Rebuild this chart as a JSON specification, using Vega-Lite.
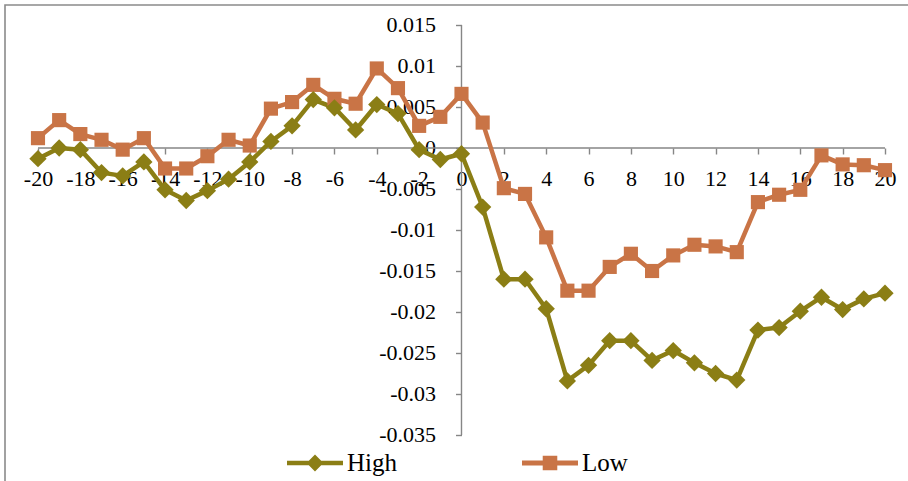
{
  "$schema": "https://vega.github.io/schema/vega-lite/v6.json",
  "width": 905,
  "height": 479,
  "padding": {"left": 5, "top": 5, "right": 0, "bottom": 0},
  "autosize": {"type": "none"},
  "background": "white",
  "config": {
    "font": "Liberation Serif",
    "view": {"stroke": "#8a8a8a", "strokeWidth": 1.6}
  },
  "datasets": {
    "series": [
      {"t": -20, "High": -0.0013, "Low": 0.0012},
      {"t": -19, "High": 0.0000, "Low": 0.0034},
      {"t": -18, "High": -0.0002, "Low": 0.0017},
      {"t": -17, "High": -0.0030, "Low": 0.0010},
      {"t": -16, "High": -0.0034, "Low": -0.0002},
      {"t": -15, "High": -0.0017, "Low": 0.0012},
      {"t": -14, "High": -0.0051, "Low": -0.0025},
      {"t": -13, "High": -0.0064, "Low": -0.0025},
      {"t": -12, "High": -0.0052, "Low": -0.0010},
      {"t": -11, "High": -0.0038, "Low": 0.0010},
      {"t": -10, "High": -0.0017, "Low": 0.0003},
      {"t": -9, "High": 0.0008, "Low": 0.0048},
      {"t": -8, "High": 0.0027, "Low": 0.0056},
      {"t": -7, "High": 0.0059, "Low": 0.0077},
      {"t": -6, "High": 0.0049, "Low": 0.0060},
      {"t": -5, "High": 0.0022, "Low": 0.0054},
      {"t": -4, "High": 0.0053, "Low": 0.0097},
      {"t": -3, "High": 0.0042, "Low": 0.0073},
      {"t": -2, "High": -0.0002, "Low": 0.0027},
      {"t": -1, "High": -0.0014, "Low": 0.0038},
      {"t": 0, "High": -0.0007, "Low": 0.0066},
      {"t": 1, "High": -0.0072, "Low": 0.0031},
      {"t": 2, "High": -0.0160, "Low": -0.0049},
      {"t": 3, "High": -0.0160, "Low": -0.0056},
      {"t": 4, "High": -0.0196, "Low": -0.0109},
      {"t": 5, "High": -0.0284, "Low": -0.0174},
      {"t": 6, "High": -0.0265, "Low": -0.0174},
      {"t": 7, "High": -0.0235, "Low": -0.0145},
      {"t": 8, "High": -0.0235, "Low": -0.0129},
      {"t": 9, "High": -0.0259, "Low": -0.0150},
      {"t": 10, "High": -0.0247, "Low": -0.0131},
      {"t": 11, "High": -0.0262, "Low": -0.0118},
      {"t": 12, "High": -0.0275, "Low": -0.0120},
      {"t": 13, "High": -0.0283, "Low": -0.0127},
      {"t": 14, "High": -0.0222, "Low": -0.0066},
      {"t": 15, "High": -0.0219, "Low": -0.0057},
      {"t": 16, "High": -0.0199, "Low": -0.0051},
      {"t": 17, "High": -0.0182, "Low": -0.0009},
      {"t": 18, "High": -0.0197, "Low": -0.0020},
      {"t": 19, "High": -0.0184, "Low": -0.0021},
      {"t": 20, "High": -0.0177, "Low": -0.0027}
    ],
    "axisLines": [
      {"x1": -20, "x2": 20, "y1": 0, "y2": 0},
      {"x1": 0, "x2": 0, "y1": -0.035, "y2": 0.015}
    ]
  },
  "layer": [
    {
      "data": {"name": "series"},
      "transform": [{"fold": ["High", "Low"], "as": ["series", "value"]}, {"filter": "false"}],
      "mark": {"type": "point", "filled": true, "opacity": 1},
      "encoding": {
        "x": {"field": "t", "type": "quantitative"},
        "y": {"field": "value", "type": "quantitative"},
        "color": {"field": "series", "type": "nominal",
          "scale": {"domain": ["High", "Low"], "range": ["#8b7e15", "#c97446"]},
          "legend": {
            "title": null, "orient": "none", "legendX": 282, "legendY": 430, "direction": "horizontal",
            "symbolSize": 3136, "symbolStrokeWidth": 0, "symbolOpacity": 1,
            "labelFontSize": 25, "labelColor": "#000000", "labelOffset": 4, "columnPadding": 125, "padding": 0
          }
        },
        "shape": {"field": "series", "type": "nominal",
          "scale": {"domain": ["High", "Low"], "range": [
            "M-1,-0.08 L1,-0.08 L1,0.08 L-1,0.08 Z M0,-0.3 L0.3,0 L0,0.3 L-0.3,0 Z",
            "M-1,-0.09 L1,-0.09 L1,0.09 L-1,0.09 Z M-0.26,-0.26 L0.26,-0.26 L0.26,0.26 L-0.26,0.26 Z"
          ]},
          "legend": {
            "title": null, "orient": "none", "legendX": 282, "legendY": 430, "direction": "horizontal",
            "symbolSize": 3136, "symbolStrokeWidth": 0, "symbolOpacity": 1,
            "labelFontSize": 25, "labelColor": "#000000", "labelOffset": 4, "columnPadding": 125, "padding": 0
          }
        }
      }
    },
    {
      "data": {"name": "axisLines"},
      "mark": {"type": "rule", "color": "#868686", "strokeWidth": 1.4},
      "encoding": {
        "x": {"field": "x1", "type": "quantitative", "scale": {"domain": [-21.558, 21.181], "nice": false, "zero": false},
          "axis": {
            "orient": "bottom", "offset": -336, "domain": false, "grid": false, "title": null,
            "values": [-20, -18, -16, -14, -12, -10, -8, -6, -4, -2, 0, 2, 4, 6, 8, 10, 12, 14, 16, 18, 20],
            "labelExpr": "'' + datum.value",
            "tickSize": 6, "tickColor": "#868686", "tickWidth": 1.4,
            "labelFontSize": 22, "labelColor": "#000000", "labelPadding": 14,
            "labelOverlap": false, "labelFlush": false, "labelBound": false
          }
        },
        "x2": {"field": "x2"},
        "y": {"field": "y1", "type": "quantitative", "scale": {"domain": [-0.040976, 0.017439], "nice": false, "zero": false},
          "axis": {
            "orient": "left", "offset": -456.5, "domain": false, "grid": false, "title": null,
            "values": [-0.035, -0.03, -0.025, -0.02, -0.015, -0.01, -0.005, 0, 0.005, 0.01, 0.015],
            "labelExpr": "'' + datum.value",
            "tickSize": 6, "tickColor": "#868686", "tickWidth": 1.4,
            "labelFontSize": 22, "labelColor": "#000000", "labelPadding": 20,
            "labelOverlap": false, "labelFlush": false, "labelBound": false
          }
        },
        "y2": {"field": "y2"}
      }
    },
    {
      "data": {"name": "series"},
      "transform": [{"fold": ["High", "Low"], "as": ["series", "value"]}],
      "mark": {"type": "line", "strokeWidth": 4.5, "strokeJoin": "round", "strokeCap": "round"},
      "encoding": {
        "x": {"field": "t", "type": "quantitative"},
        "y": {"field": "value", "type": "quantitative"},
        "color": {"field": "series", "type": "nominal"}
      }
    },
    {
      "data": {"name": "series"},
      "transform": [{"fold": ["Low"], "as": ["series", "value"]}],
      "mark": {"type": "point", "shape": "square", "filled": true, "opacity": 1, "size": 200},
      "encoding": {
        "x": {"field": "t", "type": "quantitative"},
        "y": {"field": "value", "type": "quantitative"},
        "color": {"field": "series", "type": "nominal"}
      }
    },
    {
      "data": {"name": "series"},
      "transform": [{"fold": ["High"], "as": ["series", "value"]}],
      "mark": {"type": "point", "shape": "diamond", "filled": true, "opacity": 1, "size": 300},
      "encoding": {
        "x": {"field": "t", "type": "quantitative"},
        "y": {"field": "value", "type": "quantitative"},
        "color": {"field": "series", "type": "nominal"}
      }
    }
  ]
}
